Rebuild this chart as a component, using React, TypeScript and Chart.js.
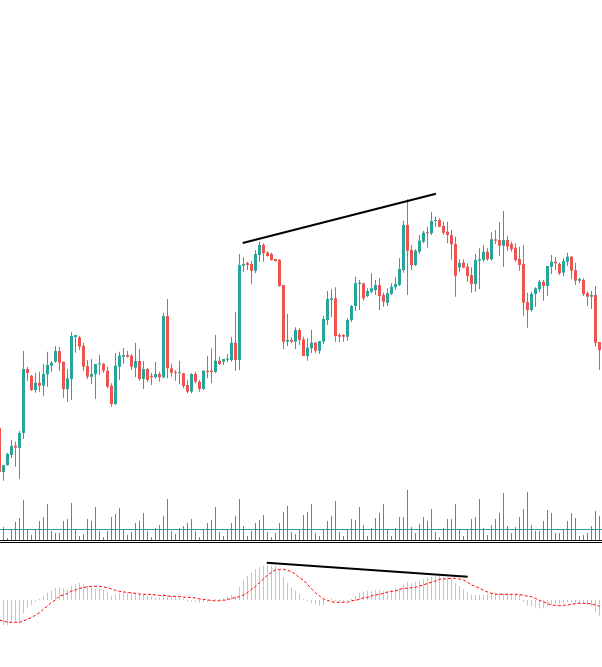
import React, { useEffect, useRef } from "react";
import { Chart, registerables } from "chart.js";

Chart.register(...registerables);

// Candle data (first candle is only partly visible at the left edge)
const opens = [172,128,135,145,154.3,152,167,231,224.3,210,217.3,214.3,225.7,234.3,238.3,249,238.3,210.7,221,263,262.7,254,234,223.3,225.7,235.6,236,229.3,214.3,196,233.3,243.3,245,244.3,232.3,239,221,231,224.3,222.7,226,222.7,284,231.7,227.3,226.7,226.7,215,208.3,226,218.3,211,229.3,229.3,228,239.3,238.3,240.3,240,257.3,240,334.3,337,336,329.3,345,355,347.3,346,341,340,315,258.3,260,258.3,270,260.7,244,251.7,257.3,249.3,258.3,280,300,301.7,265,265,263.3,280,294,316,316.7,304,308.3,310,315,305,297.3,306,312.7,315,330,375,350,335,348.3,358.3,367.3,366.7,379,380,374,368.3,365,356,332.5,337.3,333.3,325,316,339.3,340,348.3,340.7,360.7,360,354.3,360,356,352.3,341,336,298,290,306,310.7,318.3,314,333.3,338.3,336,327.3,338.3,343.3,330,319.3,320,306.7,303.3,305,258];
const closes = [128,135,146,154,152.3,167,231,227,210,217.3,214.3,226,235,237.3,249,237.3,210.7,221.7,264,265,253.3,233.3,223.3,226,236,236.3,229.3,213.3,196,234.3,244.3,245,243.3,233.3,239,221,231,220,222.7,226,222.7,284,231.7,227.3,226.7,227.3,214,208.3,226,218.3,211,229.3,228,228,239.3,236,241,241,257.3,240,335,336,335,329.3,346,355,346.7,344,340,339,314,258.3,260,258.3,270,260,244,252.3,257.3,249.3,259,281,301,301.7,264,263.3,263.3,280,294,316.7,317.3,301.7,309,311.7,315,304,298.3,306.7,313.3,316,331,375,349.3,335,349.3,359.3,367.3,366.7,379,380,373.3,367.3,365,355.7,324.3,337,332.3,324,316,340,340.7,348.3,340.7,360.7,359.3,354.3,360,353.3,350.7,340,335,297.3,290,306,311.7,318.3,314,334,338.3,336.7,326.7,339,343.3,329.3,319.3,321,306,303.3,305,257.3,250];
const highs = [174,135,147.3,160,158.3,169,249,233.3,225,227.3,228.3,236,248.3,239,254,253.3,238.3,231,267.7,265,264,257.3,240,241,236,245,237.3,233.3,216.7,247,248.3,252,249,246,257.3,251,239,232.3,227,238.3,228.3,287.3,301,236,230,239.3,227.3,220,226.7,228.3,220,230,244,251.7,265,243.3,241,246,263.3,288.3,346,342.7,338.3,339.3,350,358.3,356.7,349,347.3,341,341,315,286,262.7,272.7,271.7,263.3,261.7,270,258.3,259,284.3,309,310.7,312.7,266.7,266,281.7,295,323.3,320,317.3,311.7,326.7,320,321.7,307.3,311.7,316.7,322.7,341.7,379.3,400.7,355,350.7,365,369.3,373.3,388.3,383.3,381.7,378.3,378.3,370,363.3,340.7,340.7,336.7,332.7,346,351.7,355,351.7,367.7,370,377.7,389,364,358.3,356.7,353.3,355,307.3,308.3,312.7,320,320,334,345,342.7,337.3,341.7,347.3,344,337.3,322.3,321.7,308.3,309,314,258];
const lows = [128,119.3,134.3,142,133.3,121,161,219,209,207.3,208.3,204.3,213.3,228.3,237.3,229.3,202.3,198.3,200,247.3,250,229.3,221,216,201,225,227.3,211.7,193.3,195,220,236,242.3,230,222.7,219.3,211,218.3,215,221.7,218.3,221.7,221.7,223.3,219.3,216,211.7,206.7,206.7,216.7,208.3,210,221.7,216.7,226.7,235,235,238.3,238.3,229.3,230,328.3,330,316,326.7,338.3,338.3,343.3,339.3,338.3,313.3,250.7,254,256.7,250.7,255,244,239.3,246.7,247.3,246,256,275,282.7,258.3,257.7,258.3,259.3,278,289,290,299.3,302.7,306.7,305,290,293.3,294,305,310,314,327.3,305,330,334,346,356.7,352.3,365,373.3,372.7,365,356.7,340,303.3,328.3,331.7,318.3,307.3,308.3,311,338.3,339.3,339.3,356,344.3,333.3,349.3,348.3,338.3,329.3,284,272.3,288.3,293.3,308.3,299.3,304,326,330,325,324,334,321,315,316.7,304,294,291,253.3,230];

const volumes = [12,13,2,11,18,22,40,11,5,11,19,23,36,9,7,7,19,21,37,11,4,6,21,19,33,9,3,9,23,26,32,11,5,8,17,19,27,9,3,12,15,24,41,9,6,12,14,17,21,9,3,11,17,20,33,8,4,11,17,24,41,14,4,9,17,20,25,8,3,7,17,28,34,8,6,11,25,28,36,7,4,11,19,24,39,8,4,11,21,20,33,15,4,12,22,27,36,11,4,12,23,23,50,13,7,16,23,19,31,8,3,12,21,21,36,11,4,11,21,23,41,12,5,15,21,27,47,14,7,13,23,31,48,15,9,9,19,30,27,7,7,10,19,27,22,4,5,7,14,29,24];
const volumeAverage = 10.5;

const macdHist = [-75,-75,-75,-67,-67,-65,-40,-23,-15,-5,3,12,22,28,37,40,35,33,43,48,51,47,42,39,33,35,31,25,13,17,22,22,23,22,22,18,15,12,10,7,8,18,15,12,12,10,4,-5,-5,-5,-8,-7,-5,-2,3,3,5,10,15,13,40,58,72,82,92,100,103,105,103,102,90,70,52,37,28,18,3,-3,-10,-13,-17,-15,-3,5,-3,-5,-5,-3,3,12,22,25,27,27,30,30,27,27,30,35,35,47,54,52,55,57,63,67,70,71,72,70,68,62,50,42,33,25,15,15,15,15,17,20,20,20,20,20,19,17,15,-5,-18,-18,-23,-25,-23,-20,-13,-11,-11,-8,-7,-8,-10,-11,-11,-15,-18,-35,-47];
const macdSignal = [-60,-63,-67,-67,-67,-67,-63,-57,-53,-45,-38,-27,-18,-7,0,12,15,20,27,30,35,37,40,41,41,41,39,37,33,29,26,24,23,21,20,18,17,17,17,15,14,14,12,11,11,11,9,8,8,6,3,2,0,-1,-3,-2,-1,1,5,7,10,15,22,32,40,52,63,75,83,90,92,92,89,85,77,67,60,47,33,22,12,3,-1,-5,-7,-7,-7,-7,-2,-1,2,7,8,12,15,17,20,24,26,27,32,35,35,37,38,42,45,50,53,57,62,63,64,65,65,63,60,53,45,41,35,29,24,20,18,17,17,17,17,17,16,15,11,10,5,-1,-5,-11,-15,-16,-17,-16,-15,-13,-11,-10,-10,-10,-12,-15,-19];

const priceTrendX = [60.8, 109.1];
const priceTrendY = [357, 406.3];
const macdTrendX = [66.8, 117.05];
const macdTrendY = [111.5, 70];

const UP = "#26a69a";
const DOWN = "#ef5350";

export default function App() {
  const ref = useRef<HTMLCanvasElement | null>(null);

  useEffect(() => {
    const canvas = ref.current;
    if (!canvas) return;
    const n = opens.length;
    const idx = opens.map((_, k) => k);
    const colors = idx.map((k) => (closes[k] >= opens[k] ? UP : DOWN));

    const chart = new Chart(canvas, {
      type: "bar",
      data: {
        datasets: [
          {
            type: "line",
            label: "price trend",
            data: priceTrendX.map((x, j) => ({ x, y: priceTrendY[j] })),
            yAxisID: "yP",
            borderColor: "#000000",
            borderWidth: 2,
            pointRadius: 0,
            order: 0,
          } as any,
          {
            type: "line",
            label: "macd trend",
            data: macdTrendX.map((x, j) => ({ x, y: macdTrendY[j] })),
            yAxisID: "yM",
            borderColor: "#000000",
            borderWidth: 2,
            pointRadius: 0,
            order: 0,
          } as any,
          {
            label: "body",
            data: idx.map((k) => ({ x: k, y: [opens[k], closes[k]] })),
            yAxisID: "yP",
            backgroundColor: colors,
            barThickness: 3,
            minBarLength: 1,
            grouped: false,
            inflateAmount: 0,
            order: 1,
          } as any,
          {
            label: "wick",
            data: idx.map((k) => ({ x: k, y: [lows[k], highs[k]] })),
            yAxisID: "yP",
            backgroundColor: colors,
            barThickness: 1,
            grouped: false,
            inflateAmount: 0,
            order: 2,
          } as any,
          {
            label: "volume",
            data: idx.map((k) => ({ x: k, y: volumes[k] })),
            yAxisID: "yV",
            backgroundColor: "#2f9d91",
            barThickness: 1,
            grouped: false,
            inflateAmount: 0,
            order: 3,
          } as any,
          {
            type: "line",
            label: "volume average",
            data: [
              { x: 0, y: volumeAverage },
              { x: n, y: volumeAverage },
            ],
            yAxisID: "yV",
            borderColor: "#2f9d91",
            borderWidth: 1,
            pointRadius: 0,
            order: 2,
          } as any,
          {
            type: "line",
            label: "divider a",
            data: [
              { x: 0, y: -0.5 },
              { x: n, y: -0.5 },
            ],
            yAxisID: "yV",
            borderColor: "#000000",
            borderWidth: 1,
            pointRadius: 0,
            order: 0,
          } as any,
          {
            type: "line",
            label: "divider b",
            data: [
              { x: 0, y: -2.5 },
              { x: n, y: -2.5 },
            ],
            yAxisID: "yV",
            borderColor: "#000000",
            borderWidth: 1,
            pointRadius: 0,
            order: 0,
          } as any,
          {
            label: "histogram",
            data: idx.map((k) => ({ x: k, y: macdHist[k] })),
            yAxisID: "yM",
            backgroundColor: "#c4c4c4",
            barThickness: 1,
            grouped: false,
            inflateAmount: 0,
            order: 4,
          } as any,
          {
            type: "line",
            label: "signal",
            data: idx.map((k) => ({ x: k, y: macdSignal[k] })),
            yAxisID: "yM",
            borderColor: "#ff0000",
            borderWidth: 1,
            borderDash: [3, 2],
            pointRadius: 0,
            tension: 0,
            order: 1,
          } as any,
        ],
      },
      options: {
        responsive: false,
        maintainAspectRatio: false,
        animation: false,
        events: [],
        layout: { padding: 0 },
        plugins: { legend: { display: false }, tooltip: { enabled: false } },
        scales: {
          x: { type: "linear", min: 0.125, max: 150.625, offset: false, display: false, grid: { display: false } },
          yP: { type: "linear", position: "left", min: -67, max: 600, display: false },
          yV: { type: "linear", position: "left", min: -127, max: 540, display: false },
          yM: { type: "linear", position: "left", min: -201, max: 1800, display: false },
        },
      } as any,
    });
    return () => chart.destroy();
  }, []);

  return (
    <div style={{ position: "absolute", left: 0, top: 0, width: 602, height: 667, background: "#ffffff" }}>
      <canvas ref={ref} width={602} height={667} style={{ display: "block" }} />
    </div>
  );
}
